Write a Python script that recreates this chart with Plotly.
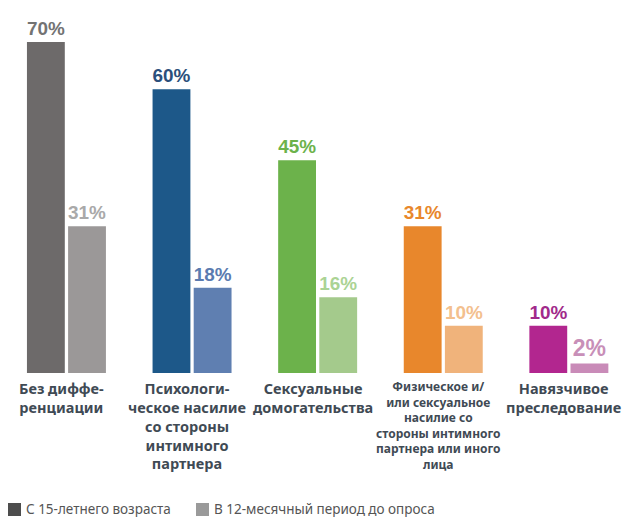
import plotly.graph_objects as go

categories = ["Без диффе-<br>ренциации",
              "Психологи-<br>ческое насилие<br>со стороны<br>интимного<br>партнера",
              "Сексуальные<br>домогательства",
              "Физическое и/<br>или сексуальное<br>насилие со<br>стороны интимного<br>партнера или иного<br>лица",
              "Навязчивое<br>преследование"]
since15 = [70, 60, 45, 31, 10]
last12 = [31, 18, 16, 10, 2]
series_names = ["С 15-летнего возраста", "В 12-месячный период до опроса"]

dark_colors = ["#6d6a6a", "#1d5889", "#6cb24b", "#e8872c", "#b2268f"]
light_colors = ["#9b9898", "#5f7fb1", "#a4ca8c", "#f0b37b", "#c98bb8"]
dark_text = ["#737373", "#2b4f7b", "#6cb24b", "#e8872c", "#a12a8b"]
light_text = ["#a9a9a9", "#5b7bb0", "#abd394", "#f3c08e", "#c88fb8"]
legend_colors = ["#4d4d4d", "#9a9a9a"]

W, H = 625, 517
T, B = 5, 144
PH = H - T - B

def py(p):
    return (H - B - p) / PH

xs = list(range(len(categories)))
fig = go.Figure()
vfont = dict(size=23, family="Liberation Sans, Arial", weight="bold")
fig.add_trace(go.Bar(
    x=xs, y=since15, name=series_names[0],
    marker=dict(color=dark_colors, line=dict(width=0)),
    text=[f"{v}%" for v in since15], textposition="outside", cliponaxis=False,
    textfont=dict(color=dark_text, **vfont),
))
fig.add_trace(go.Bar(
    x=xs, y=last12, name=series_names[1],
    marker=dict(color=light_colors, line=dict(width=0)),
    text=[f"{v}%" for v in last12], textposition="outside", cliponaxis=False,
    textfont=dict(color=light_text, **vfont),
))

for i, c in enumerate(categories):
    small = i == 3
    fig.add_annotation(
        x=i, y=0, xref="x", yref="y", text=f"<b>{c}</b>", showarrow=False,
        yanchor="top", yshift=-3, xshift=-5, align="center",
        font=dict(family="Noto Sans", size=12 if small else 14.5, color="#3f4a54"),
    )

# legend (drawn manually)
leg_x = [8, 196]
for name, col, lx in zip(series_names, legend_colors, leg_x):
    fig.add_shape(type="rect", xref="paper", yref="paper",
                  x0=lx / W, x1=(lx + 13) / W, y0=py(516), y1=py(503),
                  fillcolor=col, line=dict(width=0))
    fig.add_annotation(x=(lx + 16) / W, y=py(509), xref="paper", yref="paper",
                       text=name, showarrow=False, xanchor="left", yanchor="middle",
                       font=dict(family="Noto Sans", size=13.5, color="#555555"))

fig.update_layout(
    width=W, height=H,
    margin=dict(l=0, r=0, t=T, b=B),
    paper_bgcolor="white", plot_bgcolor="white",
    barmode="group", bargap=0.345, bargroupgap=0.08,
    xaxis=dict(range=[-0.529, 4.447], showticklabels=False, showgrid=False,
               zeroline=False, showline=False),
    yaxis=dict(range=[0, PH / 4.73], visible=False),
    showlegend=False,
    font=dict(family="Noto Sans"),
)

fig.write_html("out.html", config={"displayModeBar": False},
               post_script="document.body.style.margin='0px';")
